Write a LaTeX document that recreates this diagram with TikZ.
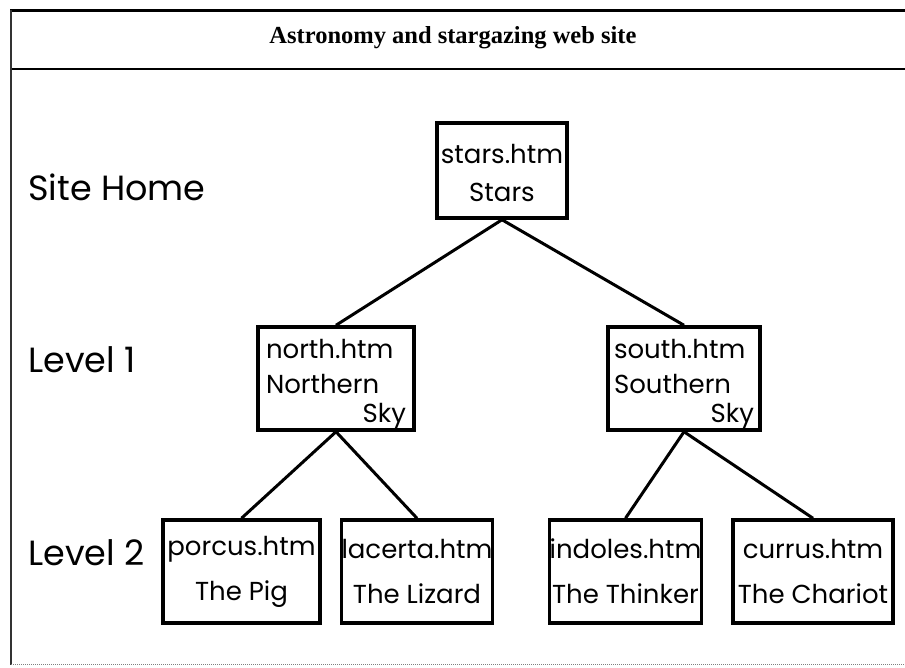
\documentclass[tikz,border=0pt]{standalone}
\usepackage{fontspec}
\setmainfont{Liberation Serif}
\newfontfamily\gothic{Poppins}
\usetikzlibrary{positioning}
\tikzset{
    pagebox/.style = {rectangle, draw=black, line width=3.5pt, inner sep=0pt, font=\gothic\fontsize{26}{31}\selectfont},
    homebox/.style = {pagebox, minimum width=130pt, minimum height=95pt, align=center},
    skybox/.style = {pagebox, minimum width=156pt, minimum height=103pt, text width=140pt, align=left},
    leafbox/.style = {pagebox, minimum height=103pt, align=center},
    levellabel/.style = {anchor=west, inner sep=0pt, font=\gothic\fontsize{35}{40}\selectfont},
    link/.style = {line width=3pt}
}

\begin{document}
\begin{tikzpicture}[x=1pt, y=-1pt]
    \useasboundingbox (0,0) rectangle (905,667);

    % frame and title row
    \draw[line width=3pt] (10,10) -- (905,10);
    \draw[line width=2pt] (10,69) -- (905,69);
    \draw[line width=2pt, black!80] (11,10) -- (11,665);
    \draw[line width=1pt, black!50, densely dotted] (11,664) -- (905,664);
    \node (title) at (453,38) {\bfseries\fontsize{24.5}{28}\selectfont Astronomy and stargazing web site};

    % level labels
    \node [levellabel] (lhome) at (28,187) {Site Home};
    \node [levellabel] (lone) at (28,360) {Level 1};
    \node [levellabel] (ltwo) at (28,553) {Level 2};

    % pages
    \node [homebox] (stars) at (502,170.5) {\rule{0pt}{25pt}stars.htm\\[7pt]Stars};
    \node [skybox] (north) at (336,378.5) {\rule{0pt}{31pt}north.htm\\[4pt]Northern\\[-2pt]\hspace*{\fill}Sky\hspace*{6pt}};
    \node [skybox, minimum width=152pt] (south) at (684,378.5) {\rule{0pt}{31pt}south.htm\\[4pt]Southern\\[-2pt]\hspace*{\fill}Sky\hspace*{6pt}};
    \node [leafbox, minimum width=157pt] (porcus) at (241.5,571.5) {porcus.htm\\[14pt]The Pig};
    \node [leafbox, minimum width=150pt] (lacerta) at (417,571.5) {lacerta.htm\\[14pt]The Lizard};
    \node [leafbox, minimum width=149pt] (indoles) at (625.5,571.5) {indoles.htm\\[14pt]The Thinker};
    \node [leafbox, minimum width=160pt] (currus) at (813,571.5) {currus.htm\\[14pt]The Chariot};

    % links
    \foreach \from/\to in {stars/north, stars/south, north/porcus, north/lacerta, south/indoles, south/currus}
        \draw [link] (\from.south) -- (\to.north);
\end{tikzpicture}
\end{document}
